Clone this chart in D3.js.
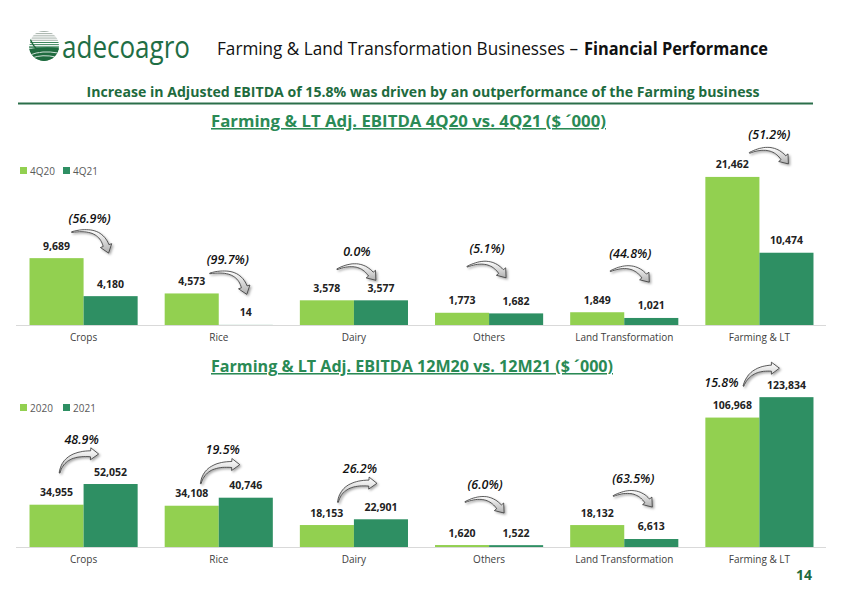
<!DOCTYPE html>
<html><head><meta charset="utf-8">
<script src="https://cdn.jsdelivr.net/npm/d3@7"></script>
<style>
html,body{margin:0;padding:0;background:#fff;}
svg{display:block;font-family:"Open Sans",sans-serif;}
</style></head>
<body>
<svg id="c" width="842" height="595"></svg>
<script>
// ---------- data ----------
const categories = ["Crops","Rice","Dairy","Others","Land Transformation","Farming & LT"];
const quarterSeries = ["4Q20","4Q21"];
const q4q20 = [9689, 4573, 3578, 1773, 1849, 21462];
const q4q21 = [4180, 14, 3577, 1682, 1021, 10474];
const quarterChange = ["(56.9%)","(99.7%)","0.0%","(5.1%)","(44.8%)","(51.2%)"];
const yearSeries = ["2020","2021"];
const y2020 = [34955, 34108, 18153, 1620, 18132, 106968];
const y2021 = [52052, 40746, 22901, 1522, 6613, 123834];
const yearChange = ["48.9%","19.5%","26.2%","(6.0%)","(63.5%)","15.8%"];

// ---------- layout (annotation nudges, arrow shapes) ----------
const topNudge = [[6,-40],[9,-34],[3,-49],[-2,-64],[6,-59],[10,-42]];
const botNudge = [[-2,-45],[4,-48],[6,-51],[-4,-61],[9,-47],[-38,-15]];
const ARROW = {
  down:  {tail:[-18,14], ctrl:[10,8], tip:[19,35]},
  flat:  {tail:[-20,18], ctrl:[2,8], tip:[19,29]},
  up:    {tail:[-22,34], ctrl:[-18,14], tip:[17,15]},
  right: {tail:[22,4], ctrl:[28,-14], tip:[58,-14]}
};
const topArrow = ["down","down","flat","flat","flat","flat"];
const botArrow = ["up","up","up","flat","flat","right"];

const LIGHT = "#92D050", DARK = "#2E8F63", GREEN_T = "#1E6B3E";

const svg = d3.select("#c");
const defs = svg.append("defs");
const grad = defs.append("linearGradient").attr("id","ag").attr("x1","0").attr("y1","0").attr("x2","0").attr("y2","1");
grad.append("stop").attr("offset","0").attr("stop-color","#ffffff");
grad.append("stop").attr("offset","1").attr("stop-color","#b0b0b0");
const filt = defs.append("filter").attr("id","sh").attr("x","-30%").attr("y","-30%").attr("width","160%").attr("height","160%");
filt.append("feDropShadow").attr("dx",1.5).attr("dy",1.5).attr("stdDeviation",1).attr("flood-color","#000").attr("flood-opacity",0.35);

// ---------- header ----------
const logo = svg.append("g");
defs.append("clipPath").attr("id","lc").append("circle").attr("cx",44).attr("cy",46).attr("r",15);
const lg = logo.append("g").attr("clip-path","url(#lc)");
lg.append("rect").attr("x",28).attr("y",30).attr("width",32).attr("height",32).attr("fill","#fff");
d3.range(31,62,2.2).forEach(yy=>{
  const w = yy < 46 ? 0.9 : 1.4;
  lg.append("rect").attr("x", yy<46 ? 29 + Math.max(0,(46-yy)*0.3) : 28).attr("y",yy).attr("width",32).attr("height",w)
    .attr("fill", yy<40 ? "#9aa89f" : "#2a7a4c");
});
lg.append("path").attr("d","M28,50 Q40,46 60,48 L60,62 L28,62 Z").attr("fill","#1f6b3f");
lg.append("path").attr("d","M30,55 Q42,50 58,53").attr("stroke","#fff").attr("stroke-width",0.8).attr("fill","none");
lg.append("path").attr("d","M32,58 Q42,54 56,57").attr("stroke","#fff").attr("stroke-width",0.8).attr("fill","none");
lg.append("path").attr("d","M29,36 Q32,46 40,52").attr("stroke","#1f6b3f").attr("stroke-width",1.5).attr("fill","none");
logo.append("text").attr("x",62).attr("y",58).attr("font-size",31).attr("fill","#1F6E45")
  .attr("textLength",128).attr("lengthAdjust","spacingAndGlyphs").text("adecoagro");

svg.append("text").attr("x",217).attr("y",55).attr("font-size",18).attr("fill","#111")
  .attr("textLength",361).attr("lengthAdjust","spacingAndGlyphs")
  .text("Farming & Land Transformation Businesses –");
svg.append("text").attr("x",584).attr("y",55).attr("font-size",18).attr("fill","#111").attr("font-weight","bold")
  .attr("textLength",184).attr("lengthAdjust","spacingAndGlyphs")
  .text("Financial Performance");

svg.append("text").attr("x",423).attr("y",96.5).attr("text-anchor","middle").attr("font-size",13.5)
  .attr("font-weight","bold").attr("fill",GREEN_T).attr("textLength",673).attr("lengthAdjust","spacingAndGlyphs")
  .text("Increase in Adjusted EBITDA of 15.8% was driven by an outperformance of the Farming business");
svg.append("line").attr("x1",18).attr("x2",813).attr("y1",103.5).attr("y2",103.5).attr("stroke","#2B6F4A").attr("stroke-width",2);

svg.append("text").attr("x",796).attr("y",580).attr("font-size",14).attr("font-weight","bold").attr("fill",GREEN_T).text("14");

// ---------- arrows ----------
function arrowPath(p0, c, p2){
  const hl = 8, hw = 6;
  const dx = p2[0]-c[0], dy = p2[1]-c[1], L = Math.hypot(dx,dy);
  const u = [dx/L, dy/L];
  const base = [p2[0]-u[0]*hl, p2[1]-u[1]*hl];
  const left = [], right = [];
  const N = 20;
  for (let i=0;i<=N;i++){
    const t = i/N;
    const x = (1-t)*(1-t)*p0[0] + 2*(1-t)*t*c[0] + t*t*base[0];
    const y = (1-t)*(1-t)*p0[1] + 2*(1-t)*t*c[1] + t*t*base[1];
    let tx = 2*(1-t)*(c[0]-p0[0]) + 2*t*(base[0]-c[0]);
    let ty = 2*(1-t)*(c[1]-p0[1]) + 2*t*(base[1]-c[1]);
    const l = Math.hypot(tx,ty)||1; tx/=l; ty/=l;
    const w = 0.4 + 2.6*t;
    left.push([x - ty*w, y + tx*w]);
    right.push([x + ty*w, y - tx*w]);
  }
  const n = [-u[1], u[0]];
  const pts = [...left, [base[0]+n[0]*hw, base[1]+n[1]*hw], p2, [base[0]-n[0]*hw, base[1]-n[1]*hw], ...right.reverse()];
  return "M" + pts.map(p=>p[0].toFixed(1)+","+p[1].toFixed(1)).join("L") + "Z";
}

// ---------- chart builder ----------
function drawChart(opt){
  const g = svg.append("g");
  const x0 = d3.scaleBand().domain(categories).range([16,827]).paddingInner(0.2).paddingOuter(0.1);
  const x1 = d3.scaleBand().domain(opt.series).range([0, x0.bandwidth()]);
  const y = d3.scaleLinear().domain([0, opt.max]).range([opt.base, opt.top]);
  const color = d3.scaleOrdinal().domain(opt.series).range([LIGHT, DARK]);

  g.append("text").attr("x",opt.titleX).attr("y",opt.titleY).attr("font-size",15.5).attr("font-weight","bold")
    .attr("fill","#2A8A55").attr("text-decoration","underline").attr("textLength",opt.titleW).attr("lengthAdjust","spacingAndGlyphs")
    .text(opt.title);

  const leg = g.append("g").attr("transform",`translate(20,${opt.legY})`);
  opt.series.forEach((s,i)=>{
    leg.append("rect").attr("x",i*43).attr("y",-4).attr("width",7).attr("height",7).attr("fill",color(s));
    leg.append("text").attr("x",i*43+10).attr("y",3.5).attr("font-size",10).attr("fill","#595959").text(s);
  });

  g.append("line").attr("x1",16).attr("x2",826).attr("y1",opt.base+0.5).attr("y2",opt.base+0.5).attr("stroke","#d9d9d9").attr("stroke-width",1);

  const rows = categories.map((c,i)=>({cat:c, vals: opt.series.map((s,j)=>({s, v: opt.values[j][i]}))}));
  const grp = g.selectAll("g.grp").data(rows).join("g").attr("transform",d=>`translate(${x0(d.cat)},0)`);
  grp.selectAll("rect").data(d=>d.vals).join("rect")
    .attr("x",d=>x1(d.s)).attr("width",x1.bandwidth())
    .attr("y",d=>y(d.v)).attr("height",d=>opt.base - y(d.v)).attr("fill",d=>color(d.s));
  grp.selectAll("text.v").data(d=>d.vals).join("text").attr("class","v")
    .attr("x",d=>x1(d.s)+x1.bandwidth()/2).attr("y",d=>y(d.v)-8.5)
    .attr("text-anchor","middle").attr("font-size",10.5).attr("font-weight","bold").attr("fill","#222")
    .text(d=>d3.format(",")(d.v));

  const ax = g.append("g").attr("transform",`translate(0,${opt.base})`)
    .call(d3.axisBottom(x0).tickSize(0).tickPadding(9));
  ax.select(".domain").remove();
  ax.selectAll("text").attr("font-size",10).attr("fill","#404040").attr("font-family","'Open Sans',sans-serif");

  categories.forEach((c,i)=>{
    const top = y(Math.max(opt.values[0][i], opt.values[1][i]));
    const tx = x0(c) + x0.bandwidth()/2 + opt.nudge[i][0];
    const ty = top + opt.nudge[i][1];
    const a = ARROW[opt.arrows[i]];
    g.append("path")
      .attr("d", arrowPath([tx+a.tail[0],ty+a.tail[1]],[tx+a.ctrl[0],ty+a.ctrl[1]],[tx+a.tip[0],ty+a.tip[1]]))
      .attr("fill","url(#ag)").attr("stroke","#333").attr("stroke-width",0.8).attr("filter","url(#sh)");
    g.append("text").attr("x",tx).attr("y",ty+4.5).attr("text-anchor","middle")
      .attr("font-size",12.5).attr("font-style","italic").attr("font-weight","600").attr("fill","#111")
      .text(opt.change[i]);
  });
}

drawChart({series:quarterSeries, values:[q4q20,q4q21], change:quarterChange, max:25000, base:325, top:152.5,
  title:"Farming & LT Adj. EBITDA 4Q20 vs. 4Q21 ($ ´000)", titleX:211, titleY:127, titleW:395,
  legY:171, nudge:topNudge, arrows:topArrow});
drawChart({series:yearSeries, values:[y2020,y2021], change:yearChange, max:140000, base:547, top:377.6,
  title:"Farming & LT Adj. EBITDA 12M20 vs. 12M21 ($ ´000)", titleX:211, titleY:372, titleW:402,
  legY:408, nudge:botNudge, arrows:botArrow});
</script>
</body></html>
